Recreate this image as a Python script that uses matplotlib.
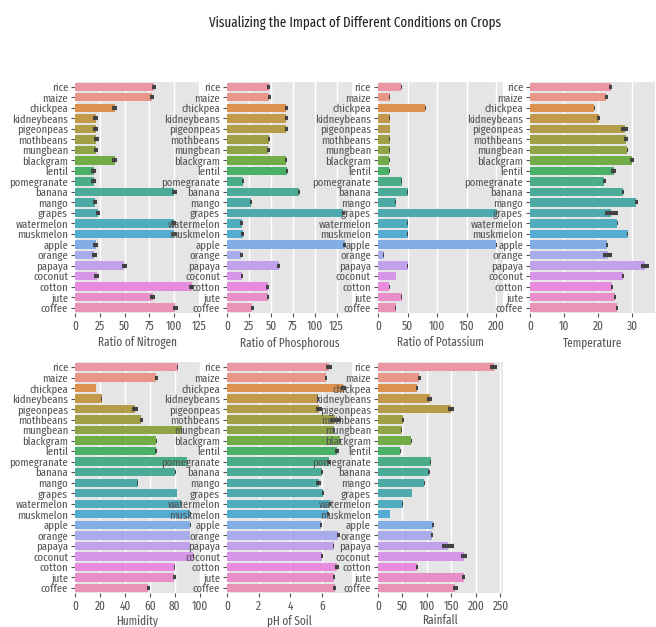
import matplotlib
matplotlib.use("Agg")
import matplotlib.pyplot as plt
from matplotlib import font_manager as fm
import numpy as np
import seaborn as sns

plt.style.use("ggplot")

# narrow sans face for the dense crop labels
_names = {f.name for f in fm.fontManager.ttflist}
FAMILY = next((n for n in ["Fira Sans Extra Condensed", "PT Sans Narrow",
                           "Roboto Condensed", "Liberation Sans Narrow"] if n in _names),
              "DejaVu Sans")
plt.rcParams["font.family"] = [FAMILY, "DejaVu Sans"]

crops = ["rice", "maize", "chickpea", "kidneybeans", "pigeonpeas", "mothbeans",
         "mungbean", "blackgram", "lentil", "pomegranate", "banana", "mango",
         "grapes", "watermelon", "muskmelon", "apple", "orange", "papaya",
         "coconut", "cotton", "jute", "coffee"]

# mean value per crop
nitrogen = [79.89, 77.76, 40.09, 20.75, 20.73, 21.44, 20.99, 40.02, 18.77, 18.87, 100.23,
            20.07, 23.18, 99.42, 100.32, 20.80, 19.58, 49.88, 21.98, 117.77, 78.40, 101.20]
phosphorous = [47.58, 48.44, 67.79, 67.54, 67.73, 48.01, 47.28, 67.47, 68.36, 18.75, 82.01,
               27.18, 132.53, 17.00, 17.72, 134.22, 16.55, 59.05, 16.93, 46.24, 46.86, 28.74]
potassium = [39.87, 19.79, 79.92, 20.05, 20.29, 20.23, 19.87, 19.24, 19.41, 40.21, 50.05,
             29.92, 200.11, 50.22, 50.08, 199.89, 10.01, 50.04, 30.59, 19.56, 39.99, 29.94]
temperature = [23.69, 22.39, 18.87, 20.12, 27.74, 28.19, 28.53, 29.97, 24.51, 21.84, 27.38,
               31.21, 23.85, 25.59, 28.66, 22.63, 22.77, 33.72, 27.41, 23.99, 24.96, 25.54]
humidity = [82.27, 65.09, 16.86, 21.61, 48.06, 53.16, 85.50, 65.12, 64.80, 90.13, 80.36,
            50.16, 81.88, 85.16, 92.34, 92.33, 92.17, 92.40, 94.84, 79.84, 79.64, 58.87]
ph = [6.43, 6.25, 7.34, 5.75, 5.79, 6.83, 6.72, 7.13, 6.93, 6.43, 5.98,
      5.77, 6.03, 6.50, 6.36, 5.93, 7.02, 6.74, 5.98, 6.91, 6.73, 6.79]
rainfall = [236.18, 84.77, 80.06, 105.92, 149.46, 51.20, 48.40, 67.88, 45.68, 107.53, 104.63,
            94.70, 69.61, 50.79, 24.69, 112.65, 110.47, 142.63, 175.69, 80.40, 174.79, 158.07]

# half-width of the 95% confidence interval per crop
nitrogen_ci = [2.3] * 22
phosphorous_ci = [1.5, 1.5, 1.6, 1.5, 1.6, 1.5, 1.4, 1.5, 1.6, 1.2, 1.5,
                  1.4, 1.5, 1.6, 1.5, 1.5, 1.6, 1.6, 1.5, 1.5, 1.5, 1.6]
potassium_ci = [0.6] * 22
temperature_ci = [0.4, 0.5, 0.25, 0.55, 1.1, 0.5, 0.2, 0.55, 0.7, 0.4, 0.3,
                  0.5, 1.9, 0.2, 0.2, 0.2, 1.4, 1.2, 0.3, 0.25, 0.25, 0.3]
humidity_ci = [0.3, 1.1, 0.35, 0.4, 2.3, 1.4, 0.55, 0.55, 0.55, 0.55, 0.55,
               0.55, 0.25, 0.55, 0.3, 0.3, 0.3, 0.3, 0.55, 0.55, 1.1, 1.1]
ph_ci = [0.16, 0.08, 0.16, 0.03, 0.17, 0.36, 0.06, 0.07, 0.1, 0.1, 0.06,
         0.14, 0.06, 0.06, 0.05, 0.06, 0.11, 0.03, 0.06, 0.12, 0.08, 0.08]
rainfall_ci = [6.5, 2.8, 1.7, 5.0, 6.0, 2.5, 1.4, 0.8, 1.1, 0.6, 1.7,
               0.6, 0.6, 1.1, 0.6, 1.4, 1.1, 12.0, 5.3, 2.2, 2.8, 4.8]

panels = [
    ("Ratio of Nitrogen", nitrogen, nitrogen_ci, [0, 25, 50, 75, 100, 125]),
    ("Ratio of Phosphorous", phosphorous, phosphorous_ci, [0, 25, 50, 75, 100, 125]),
    ("Ratio of Potassium", potassium, potassium_ci, [0, 50, 100, 150, 200]),
    ("Temperature", temperature, temperature_ci, [0, 10, 20, 30]),
    ("Humidity", humidity, humidity_ci, [0, 20, 40, 60, 80, 100]),
    ("pH of Soil", ph, ph_ci, [0, 2, 4, 6]),
    ("Rainfall", rainfall, rainfall_ci, [0, 50, 100, 150, 200, 250]),
]

colors = [sns.desaturate(c, 0.75) for c in sns.husl_palette(len(crops), l=0.7)]

fig = plt.figure(figsize=(6.56, 6.27), dpi=100)
lefts = [0.1143, 0.346, 0.576, 0.808]
bottoms = [0.501, 0.054]
W, H = 0.1905, 0.369

y = np.arange(len(crops))
for i, (label, vals, ci, ticks) in enumerate(panels):
    ax = fig.add_axes([lefts[i % 4], bottoms[i // 4], W, H])
    ax.barh(y, vals, height=0.8, color=colors, zorder=2)
    ax.errorbar(vals, y, xerr=ci, fmt="none", ecolor=".26", elinewidth=3,
                capsize=0, zorder=3)
    ax.set_ylim(len(crops) - 0.5, -0.5)
    ax.set_xlim(0, max(v + c for v, c in zip(vals, ci)) * 1.05)
    ax.set_yticks(y)
    ax.set_yticklabels(crops, fontsize=8.4, color="#555555")
    ax.set_xticks(ticks)
    ax.set_xticklabels([str(t) for t in ticks], fontsize=8.8, color="#555555")
    ax.set_xlabel(label, fontsize=8.8, color="#555555",
                  labelpad=3 if i < 4 else 1)
    ax.grid(axis="y", visible=False)
    ax.grid(axis="x", color="white", linewidth=1)
    ax.tick_params(axis="both", length=3, color="#555555", pad=2)
    for s in ax.spines.values():
        s.set_visible(False)

fig.text(0.541, 0.963, "Visualizing the Impact of Different Conditions on Crops",
         ha="center", va="center", fontsize=10.2, color="#222222")

fig.savefig("out.png", dpi=100, facecolor="white")
